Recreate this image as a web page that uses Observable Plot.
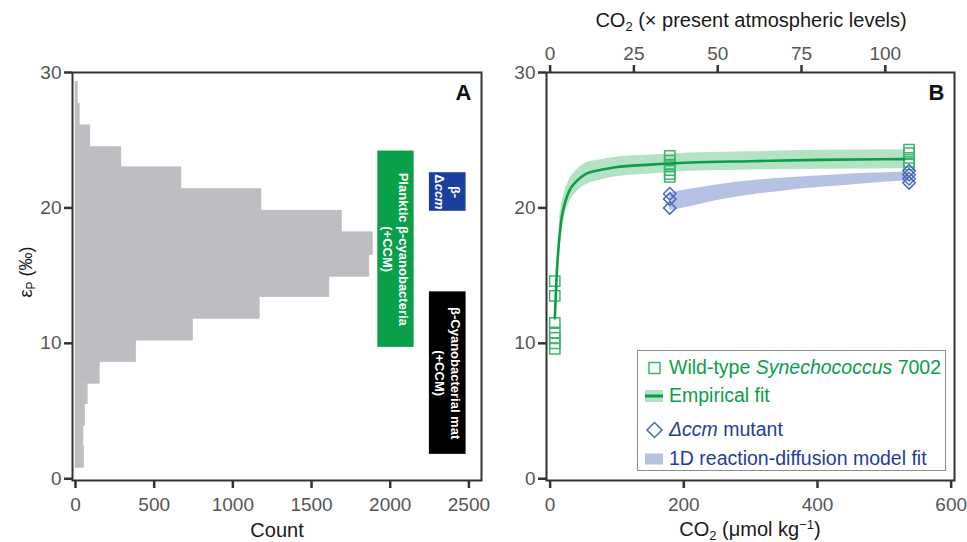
<!DOCTYPE html>
<html><head><meta charset="utf-8">
<script src="https://cdn.jsdelivr.net/npm/d3@7"></script>
<script src="https://cdn.jsdelivr.net/npm/@observablehq/plot@0.6"></script>
<style>
body{margin:0;background:#fff;font-family:"Liberation Sans",Arial,sans-serif;}
#wrap{position:relative;width:967px;height:542px;overflow:hidden;background:#fff}
.panel{position:absolute;top:0}
.lbl{position:absolute;white-space:nowrap;transform:translate(-50%,-50%);color:#1a1a1a;font-size:20px;line-height:1}
#legend{position:absolute;left:637px;top:350px;width:309px;height:121px;border:1.2px solid #8c8c8c;box-sizing:border-box;background:#fff;font-size:19.5px;line-height:1}
.li{position:absolute;left:31px;white-space:nowrap;transform:translateY(-50%)}
.ls{position:absolute;left:7px;transform:translateY(-50%)}
</style></head>
<body><div id="wrap"></div>
<script>
// ---------- Panel A: histogram of epsilon_P ----------
const binLow   = [0.8, 2.4, 3.9, 5.5, 7.0, 8.6, 10.2, 11.8, 13.4, 14.9, 16.5, 18.2, 19.8, 21.4, 23.0, 24.5, 26.1, 27.7];
const binHigh  = [2.4, 3.9, 5.5, 7.0, 8.6, 10.2, 11.8, 13.4, 14.9, 16.5, 18.2, 19.8, 21.4, 23.0, 24.5, 26.1, 27.7, 29.3];
const binCount = [55, 51, 62, 78, 155, 386, 748, 1171, 1614, 1868, 1891, 1694, 1182, 673, 292, 95, 27, 15];

const boxLabels = ["Planktic β-cyanobacteria\n(+CCM)", "β-\nΔccm", "β-Cyanobacterial mat\n(+CCM)"];
const boxEpsLow  = [9.7, 19.75, 1.8];
const boxEpsHigh = [24.2, 22.6, 13.8];
const boxCountFrom = [1921, 2249, 2249];
const boxCountTo   = [2152, 2482, 2482];

const countTicks = [0, 500, 1000, 1500, 2000, 2500];
const epsTicks = [0, 10, 20, 30];

// ---------- Panel B: epsilon_P vs CO2 ----------
const wtCO2 = [7, 7, 7, 7, 7, 7, 7, 179, 179, 179, 179, 179, 179, 537, 537, 537, 537, 537];
const wtEps = [14.6, 13.5, 11.5, 10.8, 10.4, 10.0, 9.6, 23.85, 23.5, 23.2, 22.8, 22.5, 22.3, 24.3, 24.05, 23.7, 23.4, 23.2];
const mutCO2 = [179, 179, 179, 537, 537, 537, 537];
const mutEps = [21.05, 20.65, 20.0, 22.75, 22.45, 22.15, 21.85];

const fitCO2 = [7, 10, 13.5, 16, 18.5, 23, 28, 40, 53, 75, 98, 150, 210, 300, 400, 530];
const fitEps = [11.85, 15.2, 17.6, 18.8, 19.6, 20.5, 21.2, 22.0, 22.5, 22.8, 23.0, 23.2, 23.35, 23.45, 23.55, 23.6];
const fitBandCO2 = [14, 16, 20, 28, 40, 53, 75, 98, 150, 210, 300, 400, 530];
const fitBandLow = [16.6, 17.6, 19.0, 20.3, 21.2, 21.7, 22.05, 22.3, 22.5, 22.7, 22.8, 22.85, 22.9];
const fitBandHigh= [19.3, 19.9, 20.9, 22.0, 22.8, 23.3, 23.55, 23.75, 23.9, 24.05, 24.15, 24.25, 24.3];

const modelCO2  = [179, 200, 250, 300, 350, 400, 450, 500, 537];
const modelLow  = [19.8, 20.0, 20.55, 20.95, 21.25, 21.5, 21.7, 21.9, 22.0];
const modelHigh = [21.1, 21.3, 21.7, 22.0, 22.2, 22.35, 22.5, 22.6, 22.65];

const palTicks = [0, 25, 50, 75, 100];
const co2Ticks = [0, 200, 400, 600];
const umolPerPAL = 5.015;

// ---------- styles ----------
const C = {
  hist: "#bdbec1", green: "#0a9e48", greenBand: "#b3e2c4", greenPt: "#3fb46e",
  blueBand: "#b6c2e3", bluePt: "#4a68bf", blueText: "#1f3c9c",
  boxFill: ["#0aa04a", "#1b3f9f", "#000000"], axis: "#333", tick: "#555"
};

const hist = binLow.map((lo, i) => ({lo, hi: binHigh[i], count: binCount[i]}));
const boxes = boxLabels.map((label, i) => ({label, lo: boxEpsLow[i], hi: boxEpsHigh[i], c1: boxCountFrom[i], c2: boxCountTo[i], fill: C.boxFill[i]}));

const axisCommon = {tickSize: 8, strokeWidth: 2.5, fontSize: 19, label: null, stroke: C.axis, fill: C.tick, tickFormat: d => String(d)};

const plotA = Plot.plot({
  width: 500, height: 542, marginLeft: 72, marginRight: 19, marginTop: 72, marginBottom: 62,
  style: {fontFamily: "Liberation Sans, Arial, sans-serif", background: "transparent"},
  x: {domain: [-19, 2580]},
  y: {domain: [-0.13, 30]},
  marks: [
    Plot.rectX(hist, {x: "count", y1: "lo", y2: "hi", fill: C.hist, stroke: C.hist, strokeWidth: 0.5}),
    Plot.rect(boxes, {x1: "c1", x2: "c2", y1: "lo", y2: "hi", fill: "fill"}),
    Plot.text(boxes, {x: d => (d.c1 + d.c2) / 2, y: d => (d.lo + d.hi) / 2, text: "label", rotate: 90,
      fill: "white", fontWeight: "bold", fontSize: 13, lineHeight: 1.2, lineAnchor: "middle"}),
    Plot.frame({stroke: C.axis, strokeWidth: 2}),
    Plot.axisY(epsTicks, {...axisCommon, tickPadding: 3}),
    Plot.axisX(countTicks, {...axisCommon, tickPadding: 9}),
    Plot.text(["A"], {frameAnchor: "top-right", dx: -10, dy: 12, fontWeight: "bold", fontSize: 22, fill: "#111", lineAnchor: "top"})
  ]
});

const wt = wtCO2.map((x, i) => ({x, y: wtEps[i]}));
const mut = mutCO2.map((x, i) => ({x, y: mutEps[i]}));
const fit = fitCO2.map((x, i) => ({x, y: fitEps[i]}));
const fitBand = fitBandCO2.map((x, i) => ({x, lo: fitBandLow[i], hi: fitBandHigh[i]}));
const model = modelCO2.map((x, i) => ({x, lo: modelLow[i], hi: modelHigh[i]}));

const plotB = Plot.plot({
  width: 467, height: 542, marginLeft: 46, marginRight: 13, marginTop: 72, marginBottom: 62,
  style: {fontFamily: "Liberation Sans, Arial, sans-serif", background: "transparent"},
  x: {domain: [-5.4, 605]},
  y: {domain: [-0.13, 30]},
  marks: [
    Plot.areaY(fitBand, {x: "x", y1: "lo", y2: "hi", fill: C.greenBand, curve: "monotone-x"}),
    Plot.areaY(model, {x: "x", y1: "lo", y2: "hi", fill: C.blueBand, curve: "monotone-x"}),
    Plot.dot(wt, {x: "x", y: "y", symbol: "square", r: 5.8, stroke: C.greenPt, strokeWidth: 1.5, fill: "none"}),
    Plot.line(fit, {x: "x", y: "y", stroke: C.green, strokeWidth: 2.6, curve: "monotone-x"}),
    Plot.dot(mut, {x: "x", y: "y", symbol: "diamond2", r: 5.6, stroke: C.bluePt, strokeWidth: 1.5, fill: "none"}),
    Plot.frame({stroke: C.axis, strokeWidth: 2}),
    Plot.axisY(epsTicks, {...axisCommon, tickPadding: 3}),
    Plot.axisX(co2Ticks, {...axisCommon, tickPadding: 9}),
    Plot.axisX(palTicks.map(p => p * umolPerPAL), {...axisCommon, anchor: "top", tickPadding: 5, tickFormat: d => String(Math.round(d / umolPerPAL))}),
    Plot.text(["B"], {frameAnchor: "top-right", dx: -10, dy: 12, fontWeight: "bold", fontSize: 22, fill: "#111", lineAnchor: "top"})
  ]
});

const wrap = document.getElementById("wrap");
plotA.classList.add("panel"); plotA.style.left = "0px";
plotB.classList.add("panel"); plotB.style.left = "500px";
wrap.appendChild(plotA); wrap.appendChild(plotB);

// italic "ccm" inside the blue box
d3.select(plotA).selectAll("tspan, text").each(function() {
  if (this.childNodes.length === 1 && this.textContent === "Δccm") {
    const s = d3.select(this);
    s.text("Δ");
    s.append("tspan").attr("font-style", "italic").text("ccm");
  }
});

// axis titles and legend (HTML)
wrap.insertAdjacentHTML("beforeend", `
  <div class="lbl" style="left:27px;top:272px;transform:translate(-50%,-50%) rotate(-90deg);font-size:18px">ε<sub style="font-size:12px;vertical-align:-3px">P</sub> (‰)</div>
  <div class="lbl" style="left:277px;top:530px">Count</div>
  <div class="lbl" style="left:751px;top:21px">CO<sub style="font-size:13px;vertical-align:-4px">2</sub> (× present atmospheric levels)</div>
  <div class="lbl" style="left:750px;top:530px">CO<sub style="font-size:13px;vertical-align:-4px">2</sub> (μmol kg<sup style="font-size:13px;vertical-align:7px">−1</sup>)</div>
  <div id="legend">
    <svg class="ls" style="top:17px" width="20" height="14"><rect x="4" y="1.5" width="11" height="11" fill="none" stroke="${C.greenPt}" stroke-width="1.5"/></svg>
    <div class="li" style="top:17px;color:${C.green}">Wild-type <i>Synechococcus</i> 7002</div>
    <svg class="ls" style="top:45px" width="20" height="14"><rect x="0" y="1" width="18" height="12" fill="${C.greenBand}"/><rect x="0" y="5.5" width="18" height="3" fill="${C.green}"/></svg>
    <div class="li" style="top:45px;color:${C.green}">Empirical fit</div>
    <svg class="ls" style="top:79px" width="20" height="18"><path d="M9.5 1.5 L17 9 L9.5 16.5 L2 9 Z" fill="none" stroke="${C.bluePt}" stroke-width="1.5"/></svg>
    <div class="li" style="top:79px;color:${C.blueText}"><i>Δccm</i> mutant</div>
    <svg class="ls" style="top:108px" width="20" height="14"><rect x="0" y="1.5" width="18" height="11" fill="${C.blueBand}"/></svg>
    <div class="li" style="top:108px;color:${C.blueText}">1D reaction-diffusion model fit</div>
  </div>
`);
</script>
</body></html>
